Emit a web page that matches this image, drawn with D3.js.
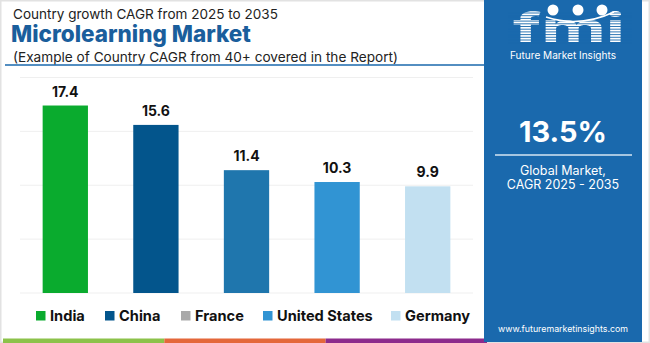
<!DOCTYPE html>
<html>
<head>
<meta charset="utf-8">
<script src="https://cdn.jsdelivr.net/npm/d3@7"></script>
<style>
  html, body { margin: 0; padding: 0; background: #fff; }
  svg { display: block; }
  text { font-family: Inter, "Open Sans", sans-serif; }
</style>
</head>
<body>
<div id="chart"></div>
<script>

var countries = ["India", "China", "France", "United States", "Germany"];
var cagr = [17.4, 15.6, 11.4, 10.3, 9.9];
var barColors = ["#0aab2e", "#03558c", "#1f76ad", "#3194d3", "#c2e0f1"];
var legendColors = ["#0aab2e", "#03558c", "#a9a9a9", "#3194d3", "#c2e0f1"];
var yTicks = [0, 5, 10, 15, 20];
var stripeColors = ["#8cc24a", "#e4673a", "#8c2b8c"];

var globalCagr = "13.5%";
var titleTop = "Country growth CAGR from 2025 to 2035";
var titleMain = "Microlearning Market";
var titleSub = "(Example of Country CAGR from 40+ covered in the Report)";

var W = 650, H = 343;
var panelColor = "#1a69ad";

var svg = d3.select("#chart").append("svg")
    .attr("width", W)
    .attr("height", H);

// frame
svg.append("rect")
    .attr("x", 0.5).attr("y", 0.5)
    .attr("width", W - 1).attr("height", H - 1)
    .attr("fill", "#fff")
    .attr("stroke", "#e2e2e2")
    .attr("stroke-width", 2);

// stretch a text to a given width by changing its size
function fitText(t, w) {
  var size = parseFloat(t.attr("font-size"));
  var len = t.node().getComputedTextLength();
  t.attr("font-size", (size * w / len).toFixed(2));
}

// headings
var h1 = svg.append("text")
    .attr("x", 13).attr("y", 19)
    .attr("font-size", 15)
    .attr("fill", "#222")
    .text(titleTop);
fitText(h1, 265);

var h2 = svg.append("text")
    .attr("x", 11).attr("y", 42)
    .attr("font-size", 24)
    .attr("font-weight", 800)
    .attr("fill", "#1a5e9c")
    .text(titleMain);
fitText(h2, 240);

var h3 = svg.append("text")
    .attr("x", 13).attr("y", 61.5)
    .attr("font-size", 15)
    .attr("fill", "#222")
    .text(titleSub);
fitText(h3, 385);

svg.append("line")
    .attr("x1", 5).attr("x2", 484)
    .attr("y1", 65).attr("y2", 65)
    .attr("stroke", "#1a69ad")
    .attr("stroke-width", 1.5);

// bar chart
var x = d3.scaleBand()
    .domain(countries)
    .range([20, 473])
    .paddingInner(0.5)
    .paddingOuter(0.25);

var y = d3.scaleLinear()
    .domain([0, 20])
    .range([293, 77.5]);

svg.append("g")
    .selectAll("line")
    .data(yTicks)
    .enter()
    .append("line")
      .attr("x1", 20).attr("x2", 473)
      .attr("y1", function(d) { return y(d); })
      .attr("y2", function(d) { return y(d); })
      .attr("stroke", "#efefef")
      .attr("stroke-width", 1);

var data = countries.map(function(c, i) {
  return { country: c, value: cagr[i], color: barColors[i] };
});

svg.selectAll(".bar")
    .data(data)
    .enter()
    .append("rect")
      .attr("class", "bar")
      .attr("x", function(d) { return x(d.country); })
      .attr("y", function(d) { return y(d.value); })
      .attr("width", x.bandwidth())
      .attr("height", function(d) { return y(0) - y(d.value); })
      .attr("fill", function(d) { return d.color; });

svg.selectAll(".val")
    .data(data)
    .enter()
    .append("text")
      .attr("class", "val")
      .attr("x", function(d) { return x(d.country) + x.bandwidth() / 2; })
      .attr("y", function(d) { return y(d.value) - 9; })
      .attr("text-anchor", "middle")
      .attr("font-size", 14)
      .attr("font-weight", 700)
      .attr("fill", "#111")
      .text(function(d) { return d.value.toFixed(1); });

// legend
var legendX = [36, 105, 181, 263, 391];
var legend = svg.selectAll(".leg")
    .data(countries)
    .enter()
    .append("g")
      .attr("class", "leg")
      .attr("transform", function(d, i) { return "translate(" + legendX[i] + ",311)"; });

legend.append("rect")
    .attr("width", 9.5).attr("height", 9.5)
    .attr("fill", function(d, i) { return legendColors[i]; });

legend.append("text")
    .attr("x", 14).attr("y", 10)
    .attr("font-size", 14.6)
    .attr("font-weight", 700)
    .attr("fill", "#111")
    .text(function(d) { return d; });

// bottom colour bands
var stripeX = d3.scaleBand().domain(d3.range(3)).range([3, 487]);
svg.selectAll(".stripe")
    .data(stripeColors)
    .enter()
    .append("rect")
      .attr("x", function(d, i) { return stripeX(i); })
      .attr("y", 338.5)
      .attr("width", stripeX.bandwidth())
      .attr("height", 4.5)
      .attr("fill", function(d) { return d; });

// right side panel
var panel = svg.append("g");
panel.append("rect")
    .attr("x", 484).attr("y", 0)
    .attr("width", 158).attr("height", 342)
    .attr("fill", panelColor);

var cx = 563;

// logo: striped letters with three small globes
panel.append("text")
    .attr("x", 513).attr("y", 42)
    .attr("font-family", "DejaVu Serif")
    .attr("font-size", 40)
    .attr("font-weight", 700)
    .attr("fill", "#fff")
    .attr("textLength", 112)
    .attr("lengthAdjust", "spacingAndGlyphs")
    .text("fmi");

panel.append("g")
    .selectAll("line")
    .data(d3.range(13, 43, 2.7))
    .enter()
    .append("line")
      .attr("x1", 508).attr("x2", 632)
      .attr("y1", function(d) { return d; })
      .attr("y2", function(d) { return d; })
      .attr("stroke", panelColor)
      .attr("stroke-width", 0.9);

panel.selectAll(".globe")
    .data([553, 578, 602])
    .enter()
    .append("circle")
      .attr("class", "globe")
      .attr("cx", function(d) { return d; })
      .attr("cy", 10)
      .attr("r", 5.5)
      .attr("fill", "#fff");

panel.append("path")
    .attr("d", "M546,17 Q580,28 614,12")
    .attr("fill", "none")
    .attr("stroke", "#fff")
    .attr("stroke-width", 1.5);

var brand = panel.append("text")
    .attr("x", cx).attr("y", 59)
    .attr("text-anchor", "middle")
    .attr("font-size", 11)
    .attr("fill", "#fff")
    .text("Future Market Insights");
fitText(brand, 106);

var big = panel.append("text")
    .attr("x", cx).attr("y", 142)
    .attr("text-anchor", "middle")
    .attr("font-size", 32)
    .attr("font-weight", 700)
    .attr("fill", "#fff")
    .text(globalCagr);
fitText(big, 88);

panel.append("line")
    .attr("x1", 495).attr("x2", 632)
    .attr("y1", 155).attr("y2", 155)
    .attr("stroke", "#d6e6f3")
    .attr("stroke-width", 1.5);

panel.append("text")
    .attr("x", cx).attr("y", 175)
    .attr("text-anchor", "middle")
    .attr("font-size", 12.5)
    .attr("fill", "#fff")
    .text("Global Market,");

panel.append("text")
    .attr("x", cx).attr("y", 189)
    .attr("text-anchor", "middle")
    .attr("font-size", 12.5)
    .attr("fill", "#fff")
    .text("CAGR 2025 - 2035");

var url = panel.append("text")
    .attr("x", cx).attr("y", 332)
    .attr("text-anchor", "middle")
    .attr("font-size", 11)
    .attr("fill", "#fff")
    .text("www.futuremarketinsights.com");
fitText(url, 130);

</script>
</body>
</html>
